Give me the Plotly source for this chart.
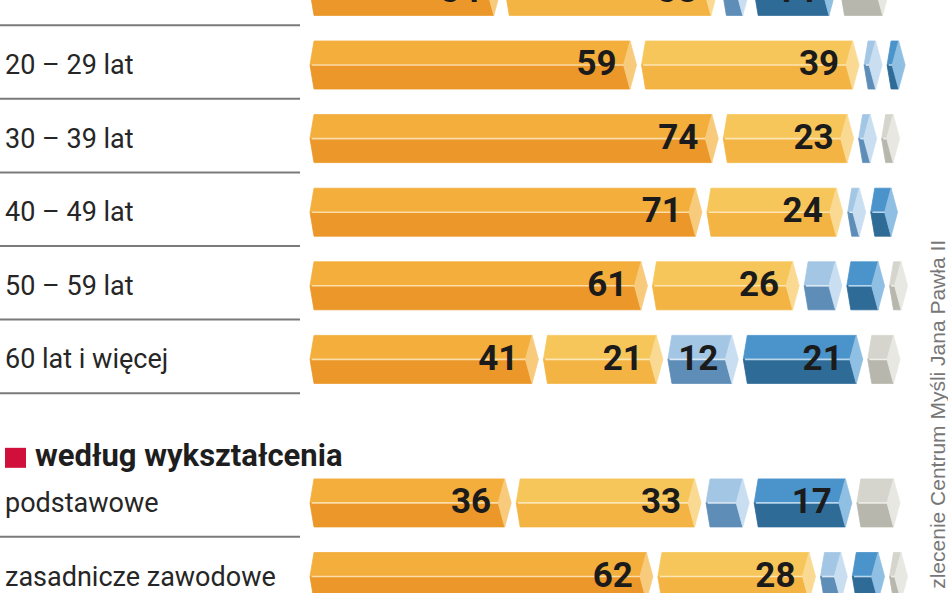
import plotly.graph_objects as go

# wiersze (kategorie)
labels_age = ["18 – 19 lat", "20 – 29 lat", "30 – 39 lat", "40 – 49 lat", "50 – 59 lat", "60 lat i więcej"]
labels_edu = ["podstawowe", "zasadnicze zawodowe"]
section_title = "według wykształcenia"
source_note = "na zlecenie Centrum Myśli Jana Pawła II"

# wartości (%) – pięć odpowiedzi, kolejno dla wierszy powyżej
s1 = [34, 59, 74, 71, 61, 41, 36, 62]
s2 = [38, 39, 23, 24, 26, 21, 33, 28]
s3 = [4, 1, 1, 2, 6, 12, 7, 4]
s4 = [14, 1, 0, 4, 6, 21, 17, 5]
s5 = [8, 0, 2, 0, 1, 5, 7, 1]

SERIES = [s1, s2, s3, s4, s5]
TOP = ["#F3AE3C", "#F7C65A", "#A3C6E5", "#4A93CB", "#D5D5CD"]
BOT = ["#EB9729", "#F3B443", "#5E8DB7", "#2F6B97", "#B7B7AD"]
CAP = ["#F8CB7C", "#FADA92", "#C9DFF1", "#8FBFE2", "#E8E8E2"]
MID = ["#FBDDA8", "#FCE6B4", "#DCEAF6", "#B7D6EE", "#F0F0EB"]

W, H = 948, 593
PX = 5.45          # px na punkt procentowy
X0_PX = 310        # początek słupków
ROW_PX = 73.6      # odstęp między wierszami
ROW1_PX = 65       # środek wiersza nr 1

TL = 4 / PX        # lewy szpic
TC = 6.5 / PX      # połowa szerokości "czapki"
GAP = 5 / PX
EXTRA = 5 / PX
MINW = 18 / PX
HH = 24 / ROW_PX   # połowa wysokości słupka

labels = labels_age + labels_edu
slots = list(range(len(labels_age))) + [len(labels_age) + 0.95 + j for j in range(len(labels_edu))]
header_slot = 6.31

fig = go.Figure()

num_x, num_y, num_t = [], [], []
polys = [dict(top=([], []), bot=([], []), cap=([], []), mid=([], [])) for _ in SERIES]

for r, yc in enumerate(slots):
    x = 0.0
    for k, ser in enumerate(SERIES):
        v = ser[r]
        if v <= 0:
            continue
        w = max(v + EXTRA, MINW)
        xl, xr = x, x + w
        x = xr + GAP
        p = polys[k]
        tx, ty = p["top"]
        tx += [xl, xl + TL, xr - TC, xr - 2 * TC, xl, None]
        ty += [yc, yc - HH, yc - HH, yc, yc, None]
        bx, by = p["bot"]
        bx += [xl, xr - 2 * TC, xr - TC, xl + TL, xl, None]
        by += [yc, yc, yc + HH, yc + HH, yc, None]
        cx, cy = p["cap"]
        cx += [xr - TC, xr, xr - TC, xr - 2 * TC, xr - TC, None]
        cy += [yc - HH, yc, yc + HH, yc, yc - HH, None]
        mx, my = p["mid"]
        mx += [xl + 0.3, xr - 2 * TC, None]
        my += [yc, yc, None]
        if v >= 10:
            num_x.append(xr - 20 / PX)
            num_y.append(yc + 0.02)
            num_t.append(str(v))

for k, p in enumerate(polys):
    for part, col in (("top", TOP[k]), ("bot", BOT[k]), ("cap", CAP[k])):
        fig.add_trace(go.Scatter(
            x=p[part][0], y=p[part][1], mode="lines", fill="toself",
            fillcolor=col, line=dict(width=0.8, color=col), hoverinfo="skip"
        ))
    fig.add_trace(go.Scatter(
        x=p["mid"][0], y=p["mid"][1], mode="lines",
        line=dict(width=1.6, color=MID[k]), hoverinfo="skip"
    ))

fig.add_trace(go.Scatter(
    x=num_x, y=num_y, mode="text", text=num_t, textposition="middle left",
    textfont=dict(family="Roboto", size=35, color="#1b1b1b", weight="bold"),
    hoverinfo="skip"
))

annotations = []
for lab, yc in zip(labels, slots):
    annotations.append(dict(
        x=3 / W, xref="paper", y=yc, yref="y", text=lab, showarrow=False,
        xanchor="left", yanchor="middle",
        font=dict(family="Roboto", size=27, color="#262626")
    ))
annotations.append(dict(
    x=33 / W, xref="paper", y=header_slot, yref="y", text=section_title, showarrow=False,
    xanchor="left", yanchor="middle",
    font=dict(family="Roboto", size=31, color="#1e1e1e", weight="bold")
))
annotations.append(dict(
    x=937 / W, xref="paper", y=1 - 238 / H, yref="paper", text=source_note, showarrow=False,
    textangle=-90, xanchor="center", yanchor="top",
    font=dict(family="Liberation Sans", size=21, color="#777777")
))

shapes = []
for yc in slots:
    ys = yc + 0.5 - 3 / ROW_PX
    shapes.append(dict(type="line", xref="paper", x0=0, x1=300 / W, yref="y", y0=ys, y1=ys,
                       line=dict(color="#7a7a7a", width=2)))
shapes.append(dict(type="rect", xref="paper", x0=5 / W, x1=26 / W, yref="y",
                   y0=header_slot + (2 - 10) / ROW_PX, y1=header_slot + (2 + 10) / ROW_PX,
                   fillcolor="#D0103A", line=dict(width=0)))

fig.update_layout(
    width=W, height=H, margin=dict(l=0, r=0, t=0, b=0),
    paper_bgcolor="white", plot_bgcolor="white", showlegend=False,
    xaxis=dict(range=[-X0_PX / PX, (W - X0_PX) / PX], visible=False, fixedrange=True),
    yaxis=dict(range=[1 + (H - ROW1_PX) / ROW_PX, 1 - ROW1_PX / ROW_PX], visible=False, fixedrange=True),
    annotations=annotations, shapes=shapes,
)

# strona bez domyślnego marginesu body, żeby wykres leżał od (0, 0)
fig.write_html("out.html", config={"displayModeBar": False},
               post_script="document.body.style.margin='0';")
